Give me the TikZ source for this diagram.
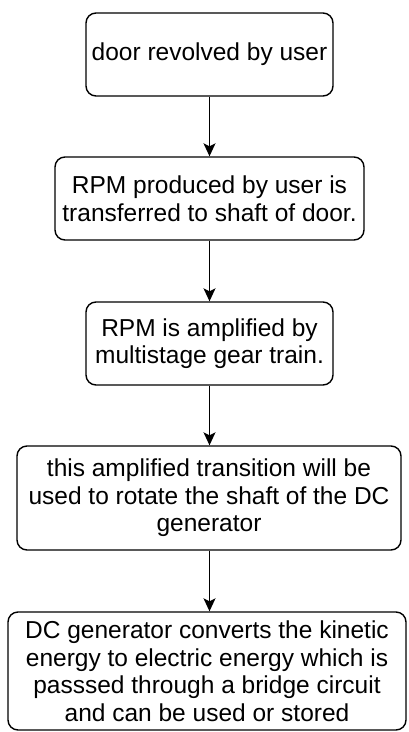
\documentclass[tikz,border=0pt]{standalone}
\usepackage{fontspec}
\setmainfont{Liberation Sans}
\usetikzlibrary{arrows.meta}
\begin{document}
\begin{tikzpicture}[x=1pt,y=1pt,
  box/.style={draw, line width=1.4pt, rounded corners=10pt, align=center,
    inner sep=0pt, font=\fontsize{24.5}{27.5}\selectfont},
  arr/.style={line width=1.4pt, -{Stealth[length=13pt,width=12pt,inset=3pt]}}]
\useasboundingbox (0,0) rectangle (408,-732);
\node[box, minimum width=247pt, minimum height=83pt] (b1) at (209.5,-54.5) {door revolved by user};
\node[box, minimum width=309pt, minimum height=83pt] (b2) at (209.5,-198.5) {RPM produced by user is\\transferred to shaft of door.};
\node[box, minimum width=247pt, minimum height=83pt] (b3) at (209.5,-343.5) {RPM is amplified by\\multistage gear train.};
\node[box, minimum width=384pt, minimum height=104pt] (b4) at (209,-498) {this amplified transition will be\\used to rotate the shaft of the DC\\generator};
\node[box, minimum width=398pt, minimum height=118pt] (b5) at (207,-671) {DC generator converts the kinetic\\energy to electric energy which is\\passsed through a bridge circuit\\and can be used or stored};
\draw[arr] (b1.south) -- (b1.south |- b2.north);
\draw[arr] (b2.south) -- (b2.south |- b3.north);
\draw[arr] (b3.south) -- (b3.south |- b4.north);
\draw[arr] (b4.south -| b3.south) -- (b3.south |- b5.north);
\end{tikzpicture}
\end{document}
